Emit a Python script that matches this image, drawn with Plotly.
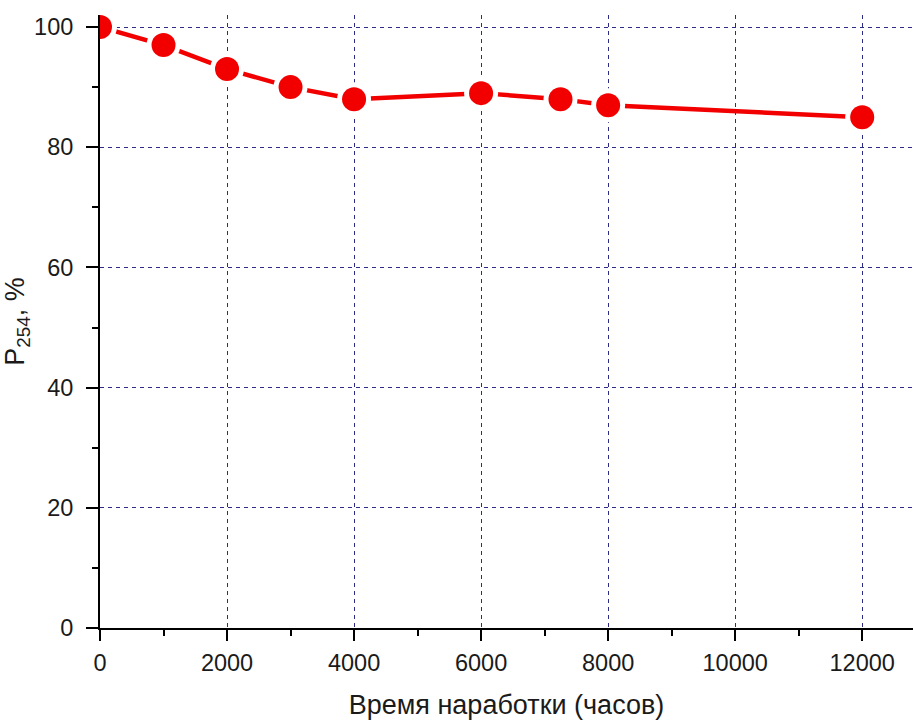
import plotly.graph_objects as go

# Operating time (hours) and relative transmittance at 254 nm (%)
hours = [0, 1000, 2000, 3000, 4000, 6000, 7250, 8000, 12000]
p254 = [100, 97, 93, 90, 88, 89, 88, 87, 85]

x_ticks = [0, 2000, 4000, 6000, 8000, 10000, 12000]
y_ticks = [0, 20, 40, 60, 80, 100]

RED = "#f20000"
GRID = "rgb(45,45,135)"
FONT = "Liberation Sans, Arial, sans-serif"

fig = go.Figure()

# connecting line
fig.add_trace(go.Scatter(
    x=hours, y=p254, mode="lines",
    line=dict(color=RED, width=4.5),
    hoverinfo="skip", showlegend=False, cliponaxis=True,
))
# white halo leaves a small gap between the line and each symbol
fig.add_trace(go.Scatter(
    x=hours, y=p254, mode="markers",
    marker=dict(color="white", size=34, line=dict(width=0)),
    hoverinfo="skip", showlegend=False, cliponaxis=True,
))
# symbols
fig.add_trace(go.Scatter(
    x=hours, y=p254, mode="markers",
    marker=dict(color=RED, size=24, line=dict(width=0)),
    showlegend=False, cliponaxis=True,
))

fig.update_layout(
    width=913, height=720,
    margin=dict(l=100, r=0, t=15, b=92),
    paper_bgcolor="white", plot_bgcolor="white",
    font=dict(family=FONT, color="#1a1a1a", size=23.5),
)

fig.update_xaxes(
    range=[0, 12800],
    tickvals=x_ticks, ticktext=[str(v) for v in x_ticks],
    showgrid=True, gridcolor=GRID, gridwidth=1, griddash="4px,4px",
    showline=True, linecolor="black", linewidth=2,
    ticks="outside", ticklen=11, tickwidth=2, tickcolor="black",
    minor=dict(dtick=1000, tick0=0, ticks="outside", ticklen=6, tickwidth=2,
               tickcolor="black", showgrid=False),
    tickfont=dict(size=23.5), ticklabelstandoff=2,
    zeroline=False,
    title=dict(text="Время наработки (часов)", font=dict(size=27), standoff=24),
)

fig.update_yaxes(
    range=[0, 102],
    tickvals=y_ticks, ticktext=[str(v) for v in y_ticks],
    showgrid=True, gridcolor=GRID, gridwidth=1, griddash="4px,4px",
    showline=True, linecolor="black", linewidth=2,
    ticks="outside", ticklen=12, tickwidth=2, tickcolor="black",
    minor=dict(dtick=10, tick0=0, ticks="outside", ticklen=6, tickwidth=2,
               tickcolor="black", showgrid=False),
    tickfont=dict(size=23.5), ticklabelstandoff=8,
    zeroline=False,
    title=dict(text="P<sub>254</sub>, %", font=dict(size=27), standoff=4),
)

fig.write_html("out.html")
